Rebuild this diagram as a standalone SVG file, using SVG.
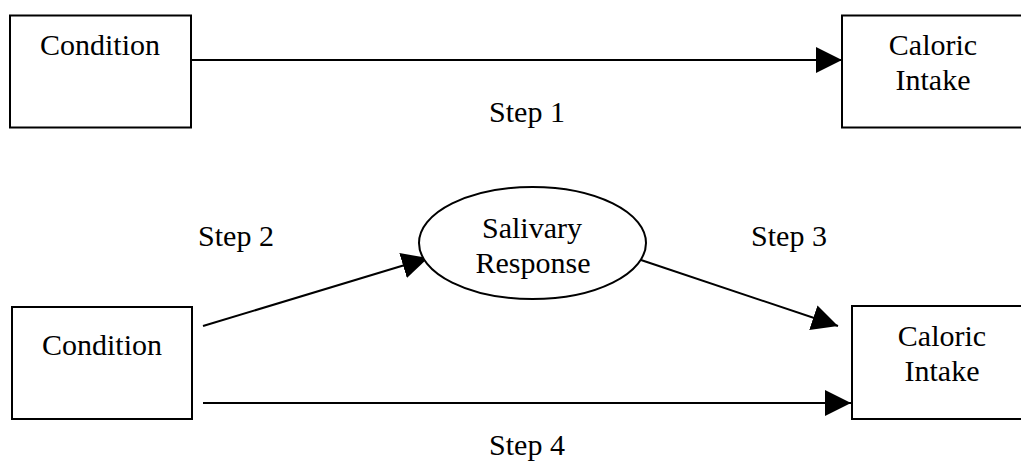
<svg xmlns="http://www.w3.org/2000/svg" width="1021" height="466" viewBox="0 0 1021 466">
<defs>
<style>
.box{fill:#fff;stroke:#000;stroke-width:2}
.t{font-family:"Liberation Serif","Times New Roman",serif;font-size:30px;fill:#000;text-anchor:middle}
.c{stroke:#000;stroke-width:2;fill:none;marker-end:url(#ah)}
</style>
<marker id="ah" markerUnits="userSpaceOnUse" markerWidth="26" markerHeight="26" refX="26" refY="13" orient="auto" viewBox="0 0 26 26">
<path d="M0,0 L26,13 L0,26 Z" fill="#000"/>
</marker>
</defs>
<rect width="1021" height="466" fill="#fff"/>
<g id="connectors">
<line class="c" x1="191" y1="60" x2="842" y2="60"/>
<line class="c" x1="203" y1="326" x2="428" y2="258"/>
<line class="c" x1="638" y1="259" x2="838" y2="326"/>
<line class="c" x1="203" y1="403" x2="851" y2="403"/>
</g>
<g id="condition1">
<rect class="box" x="10" y="15.5" width="181" height="112"/>
<text class="t" x="100" y="55">Condition</text>
</g>
<g id="caloric1">
<rect class="box" x="842" y="15.5" width="200" height="112"/>
<text class="t" x="933" y="55">Caloric</text>
<text class="t" x="933" y="90">Intake</text>
</g>
<g id="salivary">
<ellipse class="box" cx="532.5" cy="243" rx="113.5" ry="56"/>
<text class="t" x="532" y="238">Salivary</text>
<text class="t" x="533" y="273">Response</text>
</g>
<g id="condition2">
<rect class="box" x="12" y="307" width="180" height="112"/>
<text class="t" x="102" y="355">Condition</text>
</g>
<g id="caloric2">
<rect class="box" x="852" y="306" width="200" height="113"/>
<text class="t" x="942" y="346">Caloric</text>
<text class="t" x="942" y="381">Intake</text>
</g>
<g id="labels">
<text class="t" x="527" y="122">Step 1</text>
<text class="t" x="236" y="246">Step 2</text>
<text class="t" x="789" y="246">Step 3</text>
<text class="t" x="527" y="455">Step 4</text>
</g>
</svg>
